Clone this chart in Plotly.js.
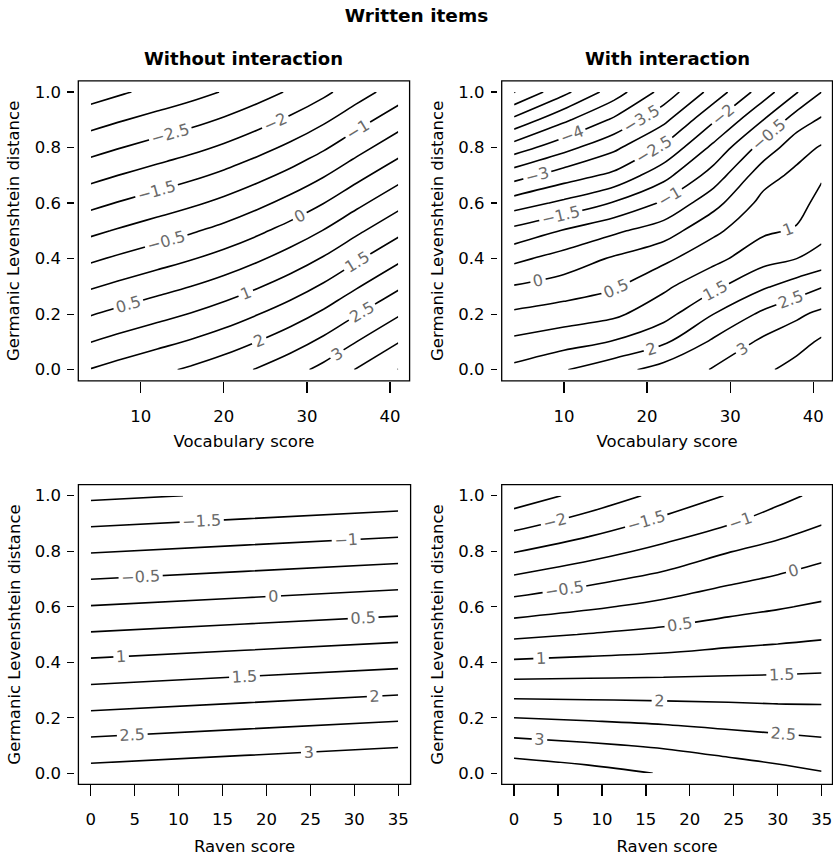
<!DOCTYPE html>
<html>
<head>
<meta charset="utf-8">
<script src="https://cdn.plot.ly/plotly-3.0.1.min.js"></script>
<style>html,body{margin:0;padding:0;background:#fff;}#chart{width:833px;height:857px;}</style>
</head>
<body>
<div id="chart"></div>
<script>
// ---------- data ----------
// Top-left: Without interaction (Vocabulary score x Germanic Levenshtein distance)
const tlVocab = [4, 8, 12, 16, 20, 24, 28, 32, 36, 41];
const tlDist = [0, 0.25, 0.5, 0.75, 1];
const tlZ = [
  [1.52, 1.71, 1.89, 2.07, 2.28, 2.53, 2.81, 3.14, 3.53, 4.01],
  [0.21, 0.40, 0.58, 0.76, 0.97, 1.22, 1.50, 1.83, 2.22, 2.69],
  [-1.11, -0.92, -0.74, -0.56, -0.35, -0.10, 0.19, 0.52, 0.91, 1.38],
  [-2.42, -2.23, -2.05, -1.87, -1.66, -1.41, -1.13, -0.80, -0.41, 0.06],
  [-3.73, -3.54, -3.36, -3.18, -2.97, -2.72, -2.44, -2.11, -1.72, -1.25]
];
// Top-right: With interaction
const trVocab = [4, 10, 16, 22, 28, 34, 38, 41];
const trDist = [0, 0.1, 0.2, 0.3, 0.4, 0.5, 0.6, 0.7, 0.8, 0.9, 1];
const trZ = [
  [1.63, 1.97, 2.32, 2.70, 3.03, 3.40, 3.69, 3.95],
  [1.11, 1.30, 1.53, 1.92, 2.59, 3.10, 3.31, 3.58],
  [0.59, 0.74, 0.90, 1.32, 2.00, 2.61, 2.91, 3.12],
  [0.03, 0.22, 0.44, 0.90, 1.39, 1.93, 2.23, 2.47],
  [-0.62, -0.29, 0.06, 0.385, 0.86, 1.32, 1.50, 1.67],
  [-1.35, -0.96, -0.59, -0.24, 0.39, 0.92, 1.05, 1.35],
  [-2.25, -1.89, -1.46, -0.93, -0.17, 0.66, 0.82, 1.16],
  [-3.21, -2.75, -2.39, -1.67, -0.78, 0.30, 0.62, 0.94],
  [-4.26, -3.67, -3.11, -2.42, -1.375, -0.29, 0.30, 0.55],
  [-5.38, -4.60, -3.92, -3.125, -2.07, -1.00, -0.25, 0.06],
  [-6.52, -5.63, -4.75, -3.82, -2.80, -1.74, -1.03, -0.50]
];
// Bottom-left: Without interaction (Raven score)
const blRaven = [0, 17.5, 35];
const blDist = [0, 0.5, 1];
const blZ = [
  [3.19, 3.34, 3.49],
  [0.55, 0.70, 0.85],
  [-2.09, -1.94, -1.79]
];
// Bottom-right: With interaction (Raven score)
const brRaven = [0, 8.5, 17, 24.4, 30, 35];
const brDist = [0, 0.1, 0.2, 0.3, 0.4, 0.5, 0.6, 0.7, 0.8, 0.9, 1];
const brZ = [
  [3.87, 3.68, 3.47, 3.29, 3.15, 3.03],
  [3.19, 3.07, 2.94, 2.79, 2.70, 2.625],
  [2.50, 2.43, 2.36, 2.29, 2.24, 2.21],
  [1.77, 1.77, 1.77, 1.77, 1.76, 1.77],
  [1.07, 1.13, 1.18, 1.245, 1.29, 1.33],
  [0.39, 0.52, 0.64, 0.78, 0.85, 0.92],
  [-0.27, -0.07, 0.135, 0.34, 0.46, 0.57],
  [-0.91, -0.63, -0.36, -0.10, 0.06, 0.21],
  [-1.53, -1.20, -0.86, -0.52, -0.33, -0.15],
  [-2.17, -1.77, -1.36, -1.03, -0.75, -0.52],
  [-2.79, -2.33, -1.86, -1.47, -1.15, -0.88]
];
const vocabTicks = [10, 20, 30, 40];
const ravenTicks = [0, 5, 10, 15, 20, 25, 30, 35];
const distTicks = [0, 0.2, 0.4, 0.6, 0.8, 1.0];
const mainTitle = 'Written items';
const panelTitles = ['Without interaction', 'With interaction'];
const yTitle = 'Germanic Levenshtein distance';
const xTitles = ['Vocabulary score', 'Raven score'];

// ---------- drawing ----------
const FONT = 'DejaVu Sans, Liberation Sans, Arial, sans-serif';
const W = 833, H = 857;
function contour(x, y, z, xa, ya) {
  return {
    type: 'contour', x: x, y: y, z: z, xaxis: xa, yaxis: ya,
    showscale: false, hoverinfo: 'skip',
    autocontour: false,
    contours: {start: -7, end: 5, size: 0.5, coloring: 'none', showlabels: true,
      labelfont: {family: FONT, size: 16, color: '#6a6a6a'}},
    line: {color: '#000', width: 1.6, smoothing: 1}
  };
}
const data = [
  contour(tlVocab, tlDist, tlZ, 'x', 'y'),
  contour(trVocab, trDist, trZ, 'x2', 'y2'),
  contour(blRaven, blDist, blZ, 'x3', 'y3'),
  contour(brRaven, brDist, brZ, 'x4', 'y4')
];
// box pixel geometry
const boxes = [
  {l: 78.3, r: 409.6, t: 80.9, b: 380.8, xr: [2.5, 42.35], yr: [-0.04, 1.04], st: 10},
  {l: 501.7, r: 832.5, t: 80.9, b: 380.8, xr: [2.51, 42.31], yr: [-0.04, 1.04], st: 10},
  {l: 78.4, r: 410.6, t: 484.6, b: 784.4, xr: [-1.4, 36.4], yr: [-0.04, 1.04], st: 12},
  {l: 501.7, r: 832.5, t: 484.6, b: 784.4, xr: [-1.40, 36.23], yr: [-0.04, 1.04], st: 12}
];
const layout = {
  width: W, height: H, margin: {l: 0, r: 0, t: 0, b: 0},
  paper_bgcolor: '#fff', plot_bgcolor: '#fff', showlegend: false,
  font: {family: FONT, size: 16.5, color: '#000'},
  title: {text: '<b>' + mainTitle + '</b>', x: 0.5, xanchor: 'center', xref: 'paper',
    y: 1 - 16 / H, yanchor: 'middle', yref: 'paper', font: {family: FONT, size: 18.5, color: '#000'}},
  shapes: [], annotations: []
};
boxes.forEach((b, i) => {
  const n = i === 0 ? '' : String(i + 1);
  const bottom = i >= 2;
  layout['xaxis' + n] = {
    domain: [b.l / W, b.r / W], range: b.xr, anchor: 'y' + n,
    tickvals: bottom ? ravenTicks : vocabTicks, ticks: 'outside', ticklen: 11, tickwidth: 1.3,
    tickcolor: '#000', showline: false, showgrid: false, zeroline: false,
    tickfont: {family: FONT, size: 16.5}, ticklabelstandoff: 9,
    title: {text: bottom ? xTitles[1] : xTitles[0], font: {family: FONT, size: 16.5}, standoff: b.st},
    fixedrange: true
  };
  layout['yaxis' + n] = {
    domain: [1 - b.b / H, 1 - b.t / H], range: b.yr, anchor: 'free', position: (b.l - 4.5) / W,
    tickvals: distTicks, tickformat: '.1f', ticks: 'outside', ticklen: 6.5, tickwidth: 1.3,
    tickcolor: '#000', showline: false, showgrid: false, zeroline: false,
    tickfont: {family: FONT, size: 16.5}, ticklabelstandoff: 3,
    title: {text: yTitle, font: {family: FONT, size: 16.5}, standoff: 9},
    fixedrange: true
  };
  layout.shapes.push({type: 'rect', xref: 'x' + n + ' domain', yref: 'y' + n + ' domain',
    x0: 0, x1: 1, y0: 0, y1: 1, line: {color: '#000', width: 1.3}, layer: 'above'});
});
[0, 1].forEach(i => {
  const b = boxes[i];
  layout.annotations.push({text: '<b>' + panelTitles[i] + '</b>', xref: 'paper', yref: 'paper',
    x: (b.l + b.r) / 2 / W, y: 1 - 58 / H, xanchor: 'center', yanchor: 'middle', showarrow: false,
    font: {family: FONT, size: 18, color: '#000'}});
});
Plotly.newPlot('chart', data, layout, {staticPlot: true, displayModeBar: false});
</script>
</body>
</html>
